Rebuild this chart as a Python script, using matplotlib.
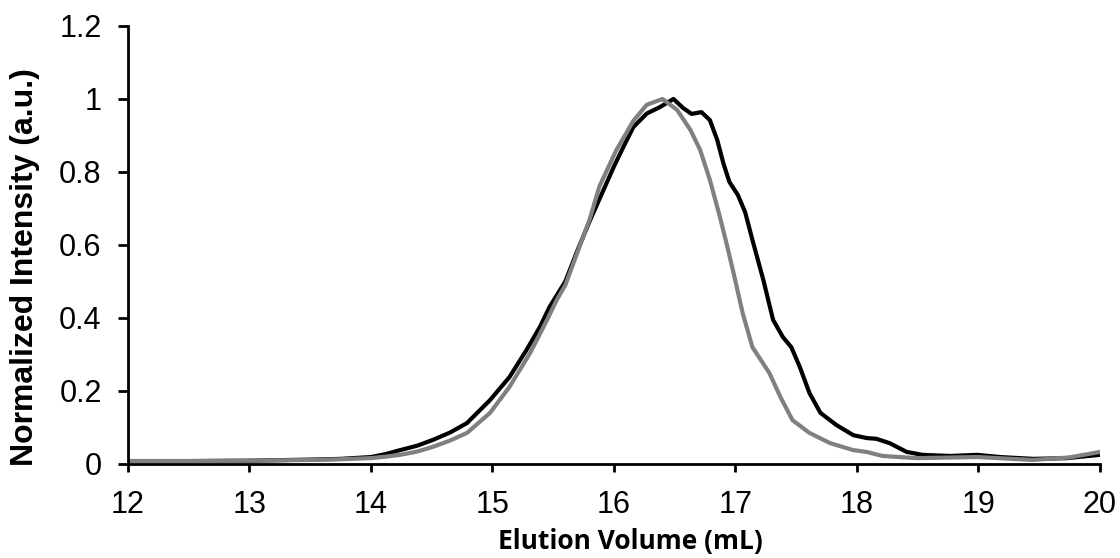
import matplotlib.pyplot as plt

# black trace
vol_a = [12.0, 12.5, 13.0, 13.5, 13.75, 14.0, 14.12, 14.24, 14.38, 14.51, 14.65, 14.79, 14.98,
         15.14, 15.28, 15.39, 15.47, 15.6, 15.7, 15.8, 15.9, 16.0, 16.08, 16.16, 16.27,
         16.38, 16.44, 16.49, 16.57, 16.64, 16.72, 16.79, 16.85, 16.9, 16.95, 17.02,
         17.08, 17.14, 17.23, 17.31, 17.39, 17.46, 17.53, 17.61, 17.7, 17.83, 17.97,
         18.08, 18.16, 18.27, 18.41, 18.54, 18.77, 18.99, 19.18, 19.45, 19.73, 20.0]
int_a = [0.008, 0.008, 0.009, 0.012, 0.014, 0.019, 0.027, 0.038, 0.05, 0.066, 0.086, 0.112, 0.175,
         0.238, 0.312, 0.375, 0.43, 0.50, 0.585, 0.665, 0.74, 0.815, 0.87, 0.923, 0.96,
         0.978, 0.99, 1.0, 0.975, 0.959, 0.964, 0.942, 0.888, 0.825, 0.773, 0.737,
         0.69, 0.614, 0.504, 0.395, 0.348, 0.32, 0.266, 0.194, 0.14, 0.107, 0.079,
         0.071, 0.069, 0.057, 0.033, 0.025, 0.022, 0.025, 0.019, 0.014, 0.016, 0.025]

# grey trace
vol_b = [12.0, 12.5, 13.0, 13.5, 13.75, 14.0, 14.12, 14.24, 14.38, 14.51, 14.65, 14.79, 14.98,
         15.14, 15.31, 15.45, 15.53, 15.6, 15.7, 15.8, 15.88, 16.02, 16.16, 16.27, 16.4,
         16.52, 16.63, 16.71, 16.79, 16.87, 16.93, 16.98, 17.06, 17.14, 17.28, 17.37,
         17.47, 17.61, 17.78, 17.97, 18.08, 18.21, 18.49, 18.99, 19.45, 19.75, 20.0]
int_b = [0.008, 0.008, 0.009, 0.011, 0.013, 0.016, 0.02, 0.025, 0.034, 0.047, 0.064, 0.085, 0.14,
         0.211, 0.304, 0.395, 0.45, 0.49, 0.58, 0.67, 0.76, 0.86, 0.94, 0.984, 1.0,
         0.97, 0.915, 0.86, 0.778, 0.68, 0.6, 0.53, 0.413, 0.32, 0.249, 0.184,
         0.12, 0.085, 0.057, 0.038, 0.033, 0.022, 0.016, 0.019, 0.011, 0.018, 0.033]

fig = plt.figure(figsize=(11.2, 5.58), dpi=100)
ax = fig.add_axes([0.1143, 0.1685, 0.8677, 0.785])

ax.plot(vol_a, int_a, color='black', linewidth=3, solid_joinstyle='round')
ax.plot(vol_b, int_b, color='#808080', linewidth=3, solid_joinstyle='round')

ax.set_xlim(12, 20)
ax.set_ylim(0, 1.2)
ax.set_xticks(range(12, 21))
ax.set_yticks([0, 0.2, 0.4, 0.6, 0.8, 1.0, 1.2])
ax.set_yticklabels(['0', '0.2', '0.4', '0.6', '0.8', '1', '1.2'])

for s in ['top', 'right']:
    ax.spines[s].set_visible(False)
for s in ['left', 'bottom']:
    ax.spines[s].set_linewidth(2)

ax.tick_params(direction='out', width=2, labelsize=22)
ax.tick_params(axis='x', length=6, pad=13)
ax.tick_params(axis='y', length=7, pad=12)
for lbl in ax.get_xticklabels() + ax.get_yticklabels():
    lbl.set_family('Liberation Sans')

ax.set_xlabel('Elution Volume (mL)', fontsize=19, fontweight='bold', family='Open Sans', va='center')
ax.xaxis.set_label_coords(0.517, -0.178)
ax.set_ylabel('Normalized Intensity (a.u.)', fontsize=23, fontweight='bold', family='Liberation Sans', va='center')
ax.yaxis.set_label_coords(-0.106, 0.45)

plt.savefig('out.png', dpi=100)
